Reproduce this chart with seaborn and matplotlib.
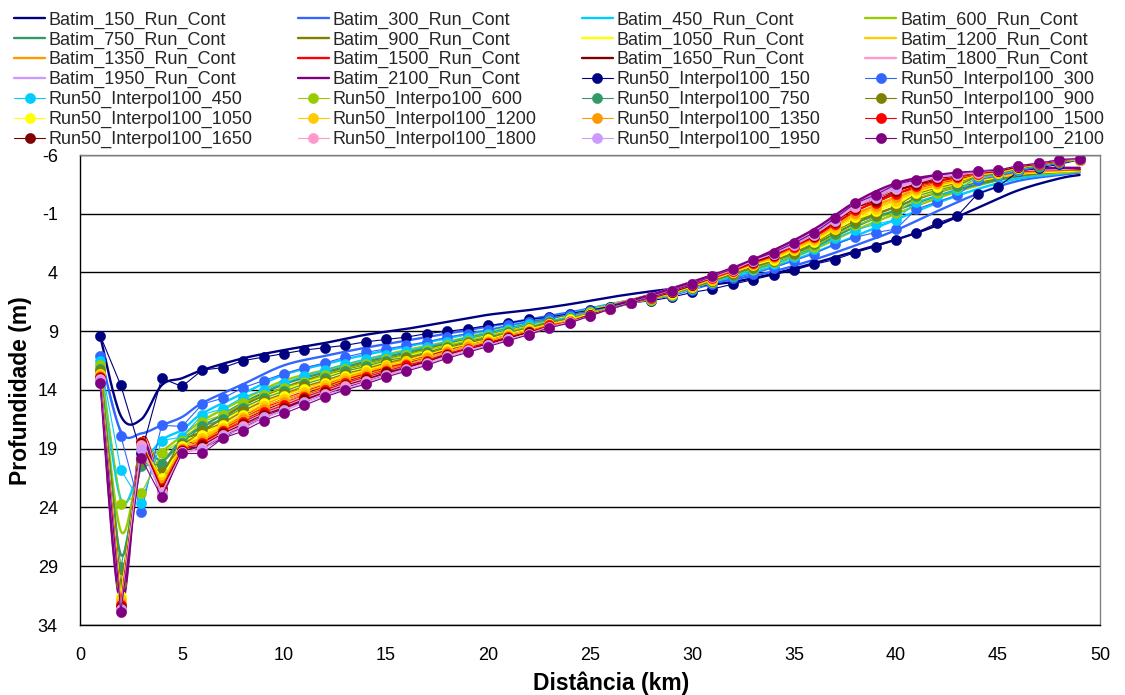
import matplotlib
matplotlib.use("Agg")
import matplotlib.pyplot as plt
import numpy as np
import seaborn as sns

# ---------------------------------------------------------------- data ----
DEPTHS = [150, 300, 450, 600, 750, 900, 1050, 1200, 1350, 1500, 1650, 1800, 1950, 2100]
COLORS = ["#000080", "#3366FF", "#00CCFF", "#99CC00", "#339966", "#808000", "#FFFF00",
          "#FFCC00", "#FF9900", "#FF0000", "#800000", "#FF99CC", "#CC99FF", "#800080"]

BATIM_LABELS = [f"Batim_{d}_Run_Cont" for d in DEPTHS]
RUN_LABELS = ["Run50_Interpol100_150", "Run50_Interpol100_300", "Run50_Interpol100_450",
              "Run50_Interpo100_600", "Run50_Interpol100_750", "Run50_Interpol100_900",
              "Run50_Interpol100_1050", "Run50_Interpol100_1200", "Run50_Interpol100_1350",
              "Run50_Interpol100_1500", "Run50_Interpol100_1650", "Run50_Interpol100_1800",
              "Run50_Interpol100_1950", "Run50_Interpol100_2100"]

# continuous-run bathymetry (km, depth m)
LINE_KM = [1, 2, 3, 4, 5, 6, 8, 10, 12, 14, 16, 18, 20, 22, 24, 26, 28, 30, 32, 34,
           36, 38, 40, 42, 44, 46, 48, 49]
batim_150 = [9.5, 16.2, 16.5, 13.6, 13.0, 12.3, 11.3, 10.6, 10.0, 9.3, 8.8, 8.2, 7.6, 7.2, 6.7, 6.1, 5.6, 5.2, 4.8, 4.1, 3.2, 2.2, 1.2, 0.0, -1.5, -3.0, -4.0, -4.3]
batim_300 = [11.0, 17.5, 17.7, 17.0, 16.3, 15.1, 13.5, 11.9, 11.1, 10.4, 9.8, 9.2, 8.6, 8.0, 7.4, 6.7, 6.0, 5.2, 4.6, 3.9, 2.9, 1.7, 0.4, -1.2, -2.7, -3.8, -4.3, -4.5]
batim_450 = [11.4, 23.3, 20.5, 18.3, 17.4, 16.0, 14.3, 12.7, 11.8, 11.0, 10.3, 9.6, 8.9, 8.2, 7.5, 6.7, 6.0, 5.1, 4.4, 3.5, 2.3, 0.9, -0.5, -1.9, -3.1, -4.0, -4.4, -4.6]
batim_600 = [11.8, 26.0, 20.0, 19.2, 17.9, 16.6, 14.8, 13.2, 12.3, 11.4, 10.6, 9.9, 9.1, 8.4, 7.6, 6.8, 6.0, 5.1, 4.2, 3.3, 2.0, 0.4, -1.0, -2.3, -3.4, -4.2, -4.5, -4.6]
batim_750 = [12.1, 28.0, 19.4, 20.0, 18.2, 17.1, 15.1, 13.5, 12.5, 11.6, 10.8, 10.0, 9.2, 8.4, 7.7, 6.8, 6.0, 5.0, 4.2, 3.1, 1.8, 0.1, -1.3, -2.5, -3.5, -4.2, -4.6, -4.7]
batim_900 = [12.3, 29.6, 19.0, 20.8, 18.4, 17.5, 15.3, 13.8, 12.7, 11.8, 11.0, 10.1, 9.3, 8.5, 7.7, 6.8, 6.0, 5.0, 4.1, 3.0, 1.6, -0.2, -1.6, -2.8, -3.7, -4.3, -4.6, -4.7]
batim_1050 = [12.5, 30.6, 18.6, 21.3, 18.5, 17.8, 15.6, 14.0, 12.9, 12.0, 11.1, 10.2, 9.4, 8.6, 7.7, 6.8, 5.9, 5.0, 4.0, 2.9, 1.4, -0.4, -1.9, -3.0, -3.8, -4.4, -4.6, -4.7]
batim_1200 = [12.6, 31.1, 18.4, 21.6, 18.6, 18.0, 15.8, 14.3, 13.2, 12.2, 11.3, 10.4, 9.5, 8.6, 7.8, 6.8, 5.9, 4.9, 4.0, 2.8, 1.2, -0.7, -2.2, -3.2, -3.9, -4.4, -4.7, -4.8]
batim_1350 = [12.7, 31.4, 18.3, 21.8, 18.7, 18.2, 16.1, 14.5, 13.4, 12.4, 11.4, 10.5, 9.6, 8.7, 7.8, 6.8, 5.9, 4.9, 3.9, 2.6, 1.1, -0.9, -2.4, -3.4, -4.1, -4.5, -4.7, -4.8]
batim_1500 = [12.8, 31.6, 18.3, 22.0, 18.8, 18.4, 16.3, 14.8, 13.6, 12.6, 11.6, 10.6, 9.7, 8.8, 7.9, 6.9, 5.9, 4.9, 3.8, 2.5, 0.9, -1.2, -2.7, -3.6, -4.2, -4.6, -4.8, -4.8]
batim_1650 = [12.9, 31.8, 18.3, 22.2, 18.8, 18.5, 16.6, 15.1, 13.8, 12.8, 11.8, 10.7, 9.8, 8.9, 7.9, 6.9, 5.9, 4.9, 3.8, 2.4, 0.7, -1.5, -3.0, -3.8, -4.3, -4.7, -4.8, -4.8]
batim_1800 = [13.0, 31.9, 18.4, 22.3, 18.9, 18.6, 16.7, 15.2, 14.0, 12.9, 11.9, 10.8, 9.9, 8.9, 7.9, 6.9, 5.9, 4.8, 3.7, 2.3, 0.6, -1.6, -3.2, -4.0, -4.4, -4.7, -4.8, -4.9]
batim_1950 = [13.1, 32.0, 18.5, 22.4, 18.9, 18.7, 16.9, 15.4, 14.1, 13.1, 12.0, 10.9, 9.9, 9.0, 8.0, 6.9, 5.9, 4.8, 3.7, 2.2, 0.4, -1.8, -3.4, -4.2, -4.5, -4.8, -4.9, -4.9]
batim_2100 = [13.3, 32.2, 18.7, 22.6, 19.0, 18.9, 17.1, 15.6, 14.3, 13.2, 12.1, 11.0, 10.0, 9.0, 8.0, 6.9, 5.9, 4.8, 3.6, 2.1, 0.3, -2.0, -3.6, -4.3, -4.6, -4.8, -4.9, -4.9]

# Run50 / Interpol100 profiles, one value per km from 1 to 49
RUN_KM = list(range(1, 50))
run_150 = [9.4, 13.6, 19.4, 13.0, 13.7, 12.3, 12.1, 11.5, 11.2, 10.9,
           10.6, 10.4, 10.2, 9.9, 9.7, 9.5, 9.2, 9.0, 8.8, 8.5,
           8.3, 8.0, 7.8, 7.5, 7.2, 6.9, 6.6, 6.4, 6.1, 5.7,
           5.4, 5.0, 4.6, 4.2, 3.8, 3.3, 2.9, 2.3, 1.8, 1.2,
           0.6, -0.2, -0.8, -2.7, -3.3, -4.6, -4.9, -5.2, -5.6]
run_300 = [11.1, 17.9, 24.4, 17.0, 17.1, 15.2, 14.7, 13.8, 13.2, 12.6,
           12.1, 11.7, 11.2, 10.8, 10.5, 10.2, 9.9, 9.5, 9.2, 8.9,
           8.5, 8.2, 7.9, 7.6, 7.3, 7.0, 6.6, 6.3, 6.0, 5.5,
           5.0, 4.5, 4.1, 3.6, 3.0, 2.4, 1.6, 1.0, 0.6, 0.3,
           -1.4, -2.0, -2.6, -3.9, -4.2, -4.6, -5.0, -5.3, -5.6]
run_450 = [11.5, 20.8, 23.6, 18.3, 18.0, 16.1, 15.6, 14.6,
           14.0, 13.4, 12.8, 12.3, 11.8, 11.4, 11.0, 10.7, 10.3, 9.9, 9.6, 9.2, 8.8, 8.4, 8.1, 7.8, 7.4, 7.0, 6.6, 6.3,
           5.9, 5.4, 4.8, 4.3, 3.8, 3.3, 2.7, 2.0, 1.1, 0.4, -0.1, -0.5, -2.0, -2.5, -3.0, -4.1, -4.3, -4.7, -5.1, -5.4, -5.6]
run_600 = [11.9, 23.7, 22.8, 19.4, 18.3, 16.7, 16.1, 15.1,
           14.4, 13.8, 13.3, 12.7, 12.2, 11.8, 11.4, 11.0, 10.6, 10.2, 9.8, 9.4, 9.0, 8.6, 8.2, 7.9, 7.4, 7.0, 6.6, 6.3,
           5.9, 5.3, 4.8, 4.2, 3.7, 3.1, 2.5, 1.8, 0.8, 0.0, -0.6, -1.1, -2.3, -2.8, -3.3, -4.2, -4.4, -4.8, -5.1, -5.4, -5.6]
run_750 = [12.2, 29.1, 20.5, 20.3, 18.5, 17.1, 16.5, 15.5,
           14.7, 14.1, 13.5, 13.0, 12.4, 12.0, 11.5, 11.2, 10.8, 10.3, 9.9, 9.5, 9.1, 8.7, 8.2, 7.9, 7.5, 7.1, 6.6, 6.2,
           5.8, 5.3, 4.7, 4.2, 3.6, 3.0, 2.4, 1.6, 0.7, -0.2, -0.8, -1.3, -2.5, -3.0, -3.4, -4.2, -4.4, -4.8, -5.1, -5.4, -5.6]
run_900 = [12.4, 30.5, 20.0, 21.0, 18.7, 17.5, 16.8, 15.8,
           14.9, 14.3, 13.7, 13.2, 12.6, 12.2, 11.7, 11.3, 10.9, 10.4, 10.0, 9.6, 9.2, 8.8, 8.3, 8.0, 7.5, 7.1, 6.6, 6.2,
           5.8, 5.3, 4.7, 4.1, 3.5, 3.0, 2.3, 1.5, 0.5, -0.4, -1.0, -1.6, -2.7, -3.2, -3.6, -4.3, -4.5, -4.9, -5.2, -5.5, -5.6]
run_1050 = [12.6, 31.5, 18.6, 21.5, 18.8, 17.8, 17.0, 16.1,
            15.1, 14.5, 13.9, 13.4, 12.8, 12.3, 11.9, 11.5, 11.0, 10.5, 10.1, 9.7, 9.2, 8.8, 8.4, 8.0, 7.5, 7.1, 6.6, 6.2,
            5.8, 5.2, 4.6, 4.0, 3.4, 2.9, 2.1, 1.4, 0.3, -0.7, -1.2, -1.9, -2.8, -3.3, -3.7, -4.3, -4.5, -4.9, -5.2, -5.5, -5.6]
run_1200 = [12.7, 31.8, 18.5, 21.8, 18.9, 18.1, 17.2, 16.3,
            15.4, 14.8, 14.2, 13.6, 13.0, 12.5, 12.0, 11.6, 11.2, 10.7, 10.2, 9.8, 9.3, 8.9, 8.4, 8.1, 7.6, 7.1, 6.6, 6.2,
            5.7, 5.2, 4.6, 4.0, 3.3, 2.8, 2.0, 1.2, 0.2, -0.9, -1.4, -2.1, -3.0, -3.5, -3.8, -4.3, -4.5, -4.9, -5.2, -5.5, -5.6]
run_1350 = [12.8, 32.1, 18.4, 22.1, 19.0, 18.3, 17.4, 16.5,
            15.6, 15.0, 14.4, 13.8, 13.2, 12.7, 12.2, 11.8, 11.3, 10.8, 10.3, 9.9, 9.4, 9.0, 8.5, 8.1, 7.6, 7.1, 6.6, 6.2,
            5.7, 5.1, 4.5, 3.9, 3.3, 2.7, 1.9, 1.1, 0.0, -1.1, -1.7, -2.4, -3.2, -3.6, -4.0, -4.4, -4.6, -5.0, -5.2, -5.5, -5.6]
run_1500 = [12.9, 32.3, 18.4, 22.3, 19.1, 18.5, 17.5, 16.7,
            15.9, 15.3, 14.6, 14.0, 13.4, 12.9, 12.4, 11.9, 11.5, 10.9, 10.5, 10.0, 9.5, 9.1, 8.5, 8.2, 7.6, 7.1, 6.6, 6.2,
            5.7, 5.1, 4.5, 3.9, 3.2, 2.6, 1.8, 1.0, -0.1, -1.3, -1.9, -2.7, -3.4, -3.8, -4.1, -4.4, -4.6, -5.0, -5.2, -5.5, -5.7]
run_1650 = [13.0, 32.5, 18.5, 22.5, 19.2, 18.7, 17.7, 16.9,
            16.1, 15.5, 14.8, 14.2, 13.6, 13.1, 12.5, 12.1, 11.6, 11.0, 10.6, 10.1, 9.6, 9.1, 8.6, 8.2, 7.6, 7.1, 6.6, 6.1,
            5.7, 5.1, 4.4, 3.8, 3.1, 2.5, 1.7, 0.9, -0.3, -1.5, -2.1, -2.9, -3.5, -4.0, -4.2, -4.5, -4.6, -5.0, -5.3, -5.6, -5.7]
run_1800 = [13.1, 32.6, 18.7, 22.7, 19.3, 18.9, 17.8, 17.1,
            16.3, 15.7, 15.0, 14.3, 13.7, 13.2, 12.7, 12.2, 11.7, 11.1, 10.6, 10.2, 9.7, 9.2, 8.6, 8.2, 7.7, 7.1, 6.6, 6.1,
            5.6, 5.0, 4.4, 3.8, 3.0, 2.4, 1.7, 0.8, -0.4, -1.6, -2.3, -3.1, -3.7, -4.1, -4.3, -4.5, -4.7, -5.1, -5.3, -5.6, -5.7]
run_1950 = [13.2, 32.7, 19.0, 22.9, 19.3, 19.1, 17.9, 17.3,
            16.4, 15.8, 15.1, 14.5, 13.9, 13.4, 12.8, 12.3, 11.8, 11.2, 10.7, 10.2, 9.7, 9.3, 8.7, 8.3, 7.7, 7.1, 6.6, 6.1,
            5.6, 5.0, 4.3, 3.7, 3.0, 2.4, 1.6, 0.7, -0.5, -1.8, -2.4, -3.3, -3.8, -4.2, -4.4, -4.6, -4.7, -5.1, -5.3, -5.6, -5.7]
run_2100 = [13.4, 32.9, 19.8, 23.1, 19.4, 19.4, 18.1, 17.5,
            16.6, 16.0, 15.3, 14.6, 14.0, 13.5, 12.9, 12.4, 11.9, 11.3, 10.8, 10.3, 9.8, 9.3, 8.7, 8.3, 7.7, 7.1, 6.6, 6.1,
            5.6, 5.0, 4.3, 3.7, 2.9, 2.3, 1.5, 0.6, -0.6, -1.9, -2.6, -3.5, -3.9, -4.3, -4.5, -4.6, -4.7, -5.1, -5.3, -5.6, -5.7]

BATIM = [batim_150, batim_300, batim_450, batim_600, batim_750, batim_900, batim_1050,
         batim_1200, batim_1350, batim_1500, batim_1650, batim_1800, batim_1950, batim_2100]
RUNS = [run_150, run_300, run_450, run_600, run_750, run_900, run_1050,
        run_1200, run_1350, run_1500, run_1650, run_1800, run_1950, run_2100]

X_TICKS = list(range(0, 51, 5))
Y_TICKS = list(range(-6, 35, 5))


def smoothed(xs, ys, steps=20):
    """Bezier-smoothed polyline through the points (spreadsheet 'smoothed line' style)."""
    p = np.column_stack([xs, ys]).astype(float)
    n = len(p)
    out = [p[0]]
    t = np.linspace(0, 1, steps + 1)[1:, None]
    for i in range(n - 1):
        p0 = p[max(i - 1, 0)]
        p1, p2 = p[i], p[i + 1]
        p3 = p[min(i + 2, n - 1)]
        c1 = p1 + (p2 - p0) / 6.0
        c2 = p2 - (p3 - p1) / 6.0
        seg = ((1 - t) ** 3) * p1 + 3 * ((1 - t) ** 2) * t * c1 + 3 * (1 - t) * t ** 2 * c2 + t ** 3 * p2
        out.extend(seg)
    out = np.array(out)
    return out[:, 0], out[:, 1]


# --------------------------------------------------------------- style ----
sns.set_theme(style="white")
plt.rcParams["font.family"] = ["Liberation Sans", "DejaVu Sans"]
plt.rcParams["axes.unicode_minus"] = False

fig = plt.figure(figsize=(11.25, 6.95), dpi=100)
fig.patch.set_facecolor("white")
ax = fig.add_axes([80 / 1125, 70 / 695, 1020 / 1125, 470 / 695])
ax.set_facecolor("white")

for vals, color, label in zip(BATIM, COLORS, BATIM_LABELS):
    sx, sy = smoothed(LINE_KM, vals)
    sns.lineplot(x=sx, y=sy, color=color, linewidth=1.7, ax=ax, label=label,
                 legend=False, sort=False, estimator=None)

for vals, color, label in zip(RUNS, COLORS, RUN_LABELS):
    sns.lineplot(x=RUN_KM, y=vals, color=color, linewidth=0.8, marker="o",
                 markersize=7.3, markeredgecolor=color, markeredgewidth=0.4,
                 ax=ax, label=label, legend=False, sort=False, estimator=None)

ax.set_xlim(0, 50)
ax.set_ylim(34, -6)
ax.set_xticks(X_TICKS)
ax.set_yticks(Y_TICKS)
ax.set_yticklabels([str(v) for v in Y_TICKS])
ax.grid(False)
ax.grid(axis="y", color="black", linewidth=1.0)
ax.set_axisbelow(True)

for side in ("left", "bottom"):
    ax.spines[side].set_color("black")
    ax.spines[side].set_linewidth(1.0)
for side in ("top", "right"):
    ax.spines[side].set_color("#808080")
    ax.spines[side].set_linewidth(1.0)

ax.tick_params(axis="both", which="major", direction="out", length=5, width=1,
               color="black", labelsize=13, labelcolor="black", pad=11)

ax.set_xlabel("Distância (km)", fontsize=16.5, fontweight="bold", color="black")
ax.set_ylabel("Profundidade (m)", fontsize=16.5, fontweight="bold", color="black")
ax.xaxis.set_label_coords((611 - 80) / 1020, (625 - 683) / 470)
ax.xaxis.label.set_va("center")
ax.yaxis.set_label_coords((21 - 80) / 1020, (625 - 391) / 470)
ax.yaxis.label.set_va("center")

# legend: 4 columns, filled row by row
handles, labels = ax.get_legend_handles_labels()
order = [r * 4 + c for c in range(4) for r in range(7)]
fig.legend([handles[i] for i in order], [labels[i] for i in order],
           ncol=4, loc="upper left", bbox_to_anchor=(14 / 1125, 1 - 11.5 / 695),
           bbox_transform=fig.transFigure, frameon=False, fontsize=13,
           borderpad=0, borderaxespad=0, handlelength=1.72, handletextpad=0.2,
           columnspacing=2.5, labelspacing=0.15, numpoints=1)

fig.savefig("out.png", dpi=100, facecolor="white")
